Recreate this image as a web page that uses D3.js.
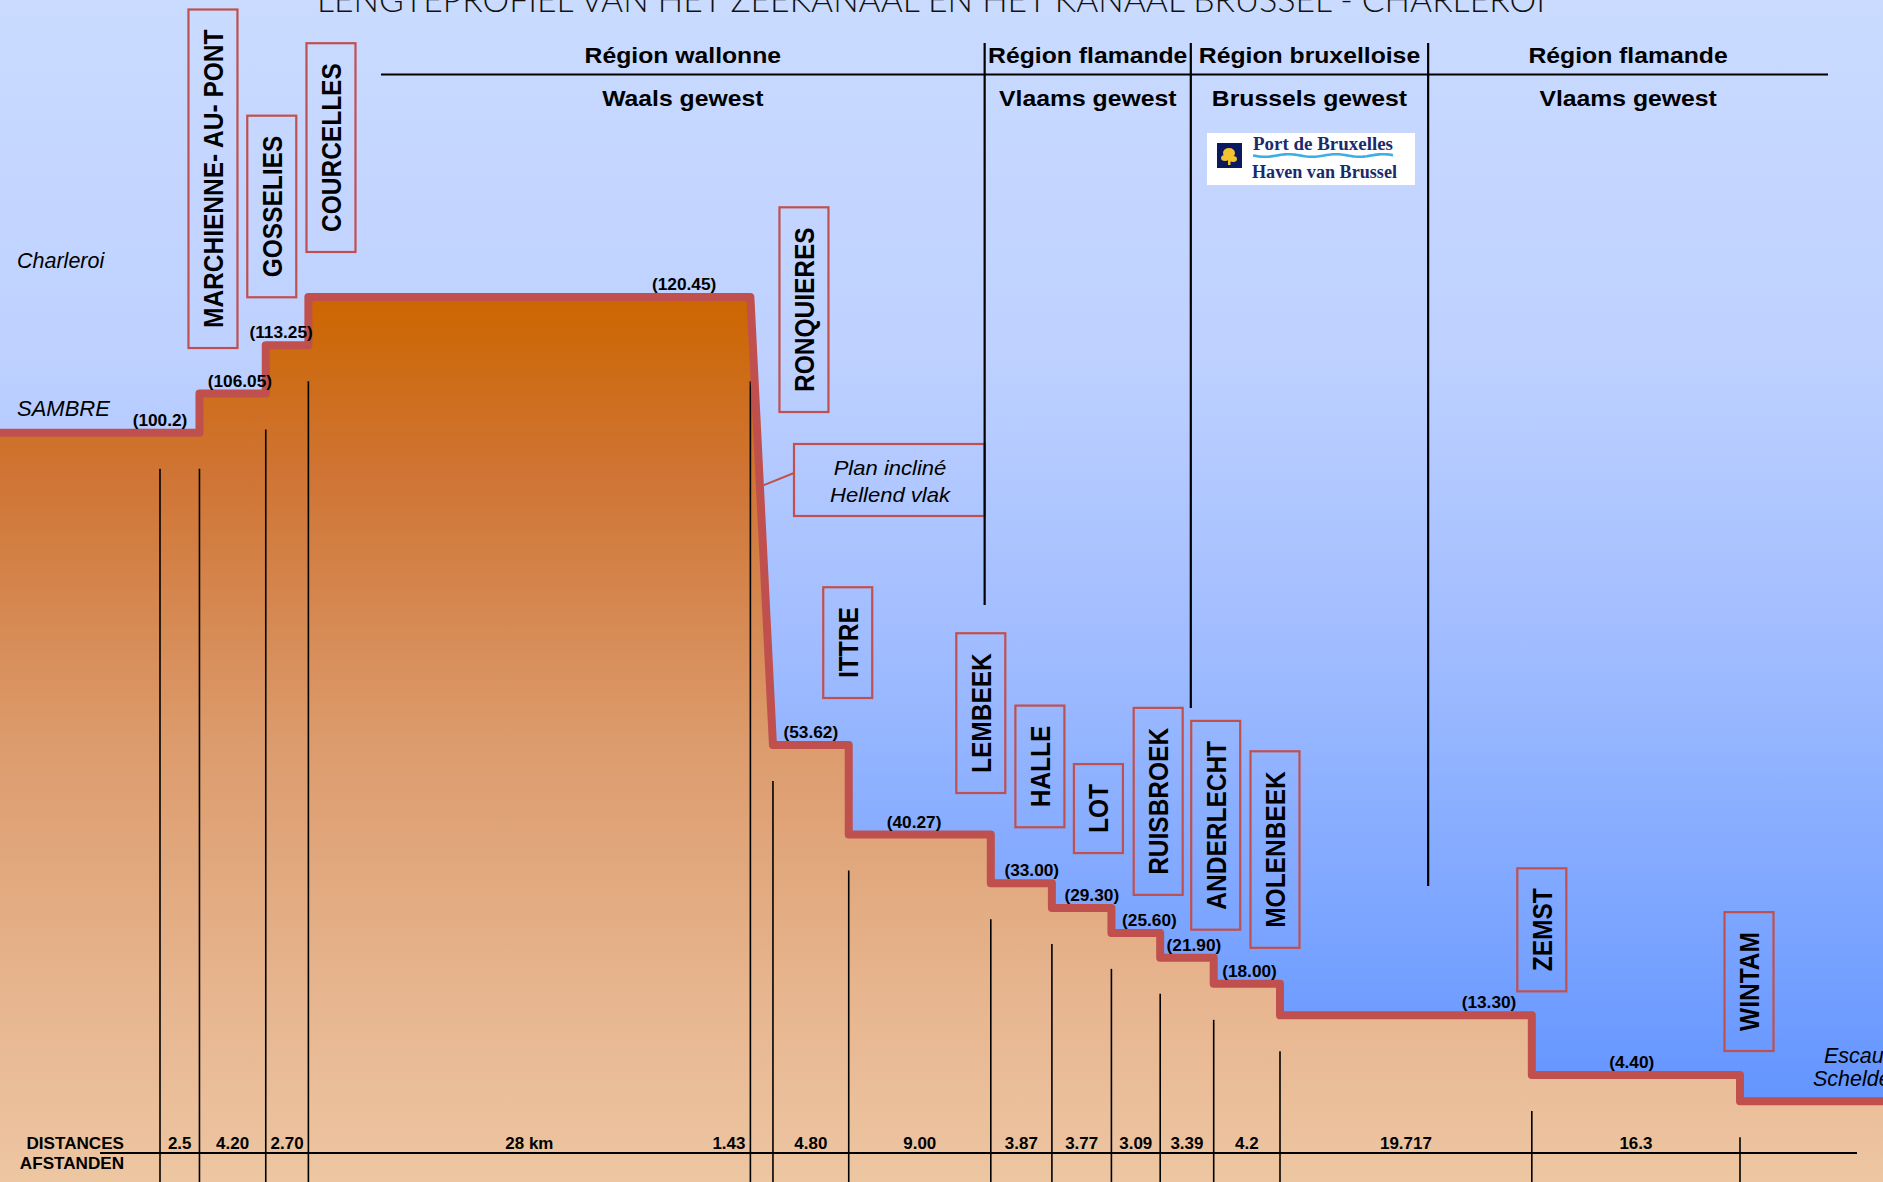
<!DOCTYPE html>
<html><head><meta charset="utf-8">
<script src="https://cdn.jsdelivr.net/npm/d3@7"></script>
<style>html,body{margin:0;padding:0;overflow:hidden;background:#fff}text{font-family:"Liberation Sans",Arial,sans-serif}</style>
</head><body><svg id="c" width="1883" height="1182"></svg>
<script>
// ---------- DATA ----------
const distances = [2.5, 4.20, 2.70, 28, 1.43, 4.80, 9.00, 3.87, 3.77, 3.09, 3.39, 4.2, 19.717, 16.3];
const distanceLabels = ["2.5","4.20","2.70","28 km","1.43","4.80","9.00","3.87","3.77","3.09","3.39","4.2","19.717","16.3"];
const levels = [100.2, 106.05, 113.25, 120.45, null, 53.62, 40.27, 33.00, 29.30, 25.60, 21.90, 18.00, 13.30, 4.40];
const levelLabels = ["(100.2)","(106.05)","(113.25)","(120.45)",null,"(53.62)","(40.27)","(33.00)","(29.30)","(25.60)","(21.90)","(18.00)","(13.30)","(4.40)"];
const scheldeLevel = 0.5;
const lockNames = ["MARCHIENNE- AU- PONT","GOSSELIES","COURCELLES","RONQUIERES","ITTRE","LEMBEEK","HALLE","LOT","RUISBROEK","ANDERLECHT","MOLENBEEK","ZEMST","WINTAM"];
const lockBoundary = [1,2,3,5,6,7,8,9,10,11,12,13,14];
const regionsFR = ["Région wallonne","Région flamande","Région bruxelloise","Région flamande"];
const regionsNL = ["Waals gewest","Vlaams gewest","Brussels gewest","Vlaams gewest"];
const regionBordersKm = [52.24, 65.3, 82.55];
const title = "LENGTEPROFIEL VAN HET ZEEKANAAL EN HET KANAAL BRUSSEL - CHARLEROI";

// ---------- LAYOUT ----------
const W = 1883, H = 1182;
const levelLabelAt = [0, 0.61, 0.36, 0.85, null, 0.5, 0.46, 0.67, 0.67, 0.78, 0.63, 0.54, 0.83, 0.48];
const boxDx = [13.5, 6, 22.6, 31, -1, -10, -12, -13, -2, 2, -5, 10, 9];
const boxLift = [45.5, 48, 45, 333, 47, 41.5, 56, 55, 38, 28, 36, 24, 24];
const dividerBottoms = [605, 708, 886];
const RED = "#C0504D";

const cum = [0];
distances.forEach(d => cum.push(cum[cum.length - 1] + d));
const x = d3.scaleLinear().domain([0, cum[12], cum[14]]).range([160, 1280, 1740]);
const y = d3.scaleLinear().domain([0, 120.45]).range([1104.5, 297]);

const svg = d3.select("#c");
const defs = svg.append("defs");
const sky = defs.append("linearGradient").attr("id","sky").attr("gradientUnits","userSpaceOnUse")
  .attr("x1",0).attr("y1",0).attr("x2",0).attr("y2",H);
[[0,"#CADBFF"],[0.3,"#BED1FF"],[0.55,"#A0BCFF"],[0.75,"#80A8FF"],[0.92,"#6596FF"],[1,"#6194FF"]]
  .forEach(s => sky.append("stop").attr("offset",s[0]).attr("stop-color",s[1]));
const soil = defs.append("linearGradient").attr("id","soil").attr("gradientUnits","userSpaceOnUse")
  .attr("x1",0).attr("y1",y(120.45)).attr("x2",0).attr("y2",H);
[[0,"#CC6600"],[0.2,"#CF7434"],[0.5,"#DC9B6C"],[0.8,"#E7B690"],[1,"#EDC6A2"]]
  .forEach(s => soil.append("stop").attr("offset",s[0]).attr("stop-color",s[1]));

svg.append("rect").attr("width",W).attr("height",H).attr("fill","url(#sky)");

// profile points
const pts = [[0, y(levels[0])]];
for (let i = 0; i < levels.length; i++) {
  if (levels[i] === null) {
    pts.push([x(cum[i+1]), y(levels[i+1])]);
  } else {
    pts.push([x(cum[i]), y(levels[i])]);
    pts.push([x(cum[i+1]), y(levels[i])]);
  }
}
pts.push([x(cum[14]), y(scheldeLevel)]);
pts.push([W, y(scheldeLevel)]);

const area = pts.concat([[W, H], [0, H]]);
svg.append("path").attr("d", d3.line()(area) + "Z").attr("fill","url(#soil)");

// vertical distance lines
const lvl = j => {
  const c = [];
  if (j - 1 >= 0 && levels[j-1] !== null) c.push(levels[j-1]);
  if (j < levels.length && levels[j] !== null) c.push(levels[j]);
  if (j === levels.length) c.push(scheldeLevel);
  if (j < levels.length && levels[j] === null && j >= 2) return d3.min([levels[j-1], levels[j-2]]);
  return d3.min(c);
};
svg.append("g").selectAll("line").data(cum).join("line")
  .attr("x1", d => x(d)).attr("x2", d => x(d))
  .attr("y1", (d, j) => y(lvl(j)) + 36).attr("y2", H)
  .attr("stroke","#000").attr("stroke-width",1.6);

// axis line
svg.append("line").attr("x1",100).attr("x2",1857).attr("y1",1153).attr("y2",1153)
  .attr("stroke","#000").attr("stroke-width",2.2);

// water line
svg.append("path").attr("d", d3.line()(pts)).attr("fill","none")
  .attr("stroke",RED).attr("stroke-width",8).attr("stroke-linejoin","round");

// helper for horizontally stretched text
function txt(g, s, tx, ty, opt) {
  const o = Object.assign({size:16, weight:"bold", style:"normal", anchor:"middle", sx:1, fill:"#000", family:null, len:null}, opt||{});
  const t = g.append("text").attr("transform", `translate(${tx},${ty}) scale(${o.sx},1)`)
    .attr("text-anchor", o.anchor).attr("font-size", o.size).attr("font-weight", o.weight)
    .attr("font-style", o.style).attr("fill", o.fill).text(s);
  if (o.family) t.style("font-family", o.family);
  if (o.len) t.attr("textLength", o.len).attr("lengthAdjust","spacingAndGlyphs");
  return t;
}

// level labels
const gl = svg.append("g");
levels.forEach((v, i) => {
  if (v === null) return;
  const xs = x(cum[i]) + levelLabelAt[i] * (x(cum[i+1]) - x(cum[i]));
  txt(gl, levelLabels[i], xs, y(v) - 7, {size:16, sx:1.08});
});

// distance labels
const gd = svg.append("g");
distances.forEach((d, i) => {
  const a = x(cum[i]), b = x(cum[i+1]);
  if (b - a < 30) txt(gd, distanceLabels[i], a - 5, 1149, {size:16, anchor:"end", sx:1.06});
  else txt(gd, distanceLabels[i], (a + b) / 2, 1149, {size:16, sx:1.06});
});
txt(gd, "DISTANCES", 124, 1149, {size:16, anchor:"end", sx:1.07});
txt(gd, "AFSTANDEN", 124, 1169, {size:16, anchor:"end", sx:1.07});

// lock boxes
const fsBox = 24.5;
lockNames.forEach((name, k) => {
  const b = lockBoundary[k];
  const cands = [levels[b-1], levels[b], b === levels.length ? scheldeLevel : null].filter(v => v !== null && v !== undefined);
  const upper = d3.max(cands);
  const cx = x(cum[b]) + boxDx[k];
  const g = svg.append("g");
  const t = g.append("text").attr("font-size", fsBox).attr("font-weight","bold")
    .attr("text-anchor","middle").attr("y", fsBox * 0.358).text(name);
  const len = t.node().getComputedTextLength();
  const hBox = len + 40;
  const bottom = y(upper) - boxLift[k];
  const cy = bottom - hBox / 2;
  t.attr("transform", `translate(${cx},${cy}) scale(1.15,1) rotate(-90)`);
  g.insert("rect","text").attr("x", cx - 24.5).attr("y", bottom - hBox).attr("width",49).attr("height",hBox)
    .attr("fill","none").attr("stroke",RED).attr("stroke-width",2.2);
});

// Plan incliné callout
const bx = [x(cum[4]), x(cum[5])], byv = [y(levels[3]), y(levels[5])];
const pf = 0.42;
const gp = svg.append("g");
gp.append("line").attr("x1",794).attr("y1",473).attr("x2",bx[0] + pf*(bx[1]-bx[0]) + 4).attr("y2",byv[0] + pf*(byv[1]-byv[0]))
  .attr("stroke",RED).attr("stroke-width",2);
gp.append("rect").attr("x",794).attr("y",444).attr("width",x(regionBordersKm[0]) - 794).attr("height",72)
  .attr("fill","none").attr("stroke",RED).attr("stroke-width",2.2);
txt(gp, "Plan incliné", 890, 475, {size:21, weight:"normal", style:"italic", sx:1.05});
txt(gp, "Hellend vlak", 890, 502, {size:21, weight:"normal", style:"italic", sx:1.05});

// region header
const gr = svg.append("g");
const bxs = regionBordersKm.map(x);
gr.append("line").attr("x1",381).attr("x2",1828).attr("y1",74.5).attr("y2",74.5).attr("stroke","#000").attr("stroke-width",2.2);
bxs.forEach((bxv, i) => gr.append("line").attr("x1",bxv).attr("x2",bxv).attr("y1",43).attr("y2",dividerBottoms[i])
  .attr("stroke","#000").attr("stroke-width",2.2));
const edges = [381].concat(bxs, [1828]);
regionsFR.forEach((r, i) => {
  const c = (edges[i] + edges[i+1]) / 2;
  txt(gr, r, c, 63, {size:22.5, sx:1.1});
  txt(gr, regionsNL[i], c, 106, {size:22.5, sx:1.1});
});

// italic place labels
txt(svg, "Charleroi", 17, 268, {size:21.5, weight:"normal", style:"italic", anchor:"start"});
txt(svg, "SAMBRE", 17, 416, {size:22, weight:"normal", style:"italic", anchor:"start"});
txt(svg, "Escaut", 1824, 1063, {size:21.5, weight:"normal", style:"italic", anchor:"start"});
txt(svg, "Schelde", 1813, 1086, {size:21.5, weight:"normal", style:"italic", anchor:"start"});

// title (cut at top as in the original)
svg.append("text").attr("x",317).attr("y",12).attr("font-size",34).attr("font-weight",300)
  .style("font-family","Lato, 'Open Sans', sans-serif")
  .attr("textLength",1228).attr("lengthAdjust","spacingAndGlyphs").attr("fill","#111").text(title);

// logo
const lg = svg.append("g");
lg.append("rect").attr("x",1207).attr("y",133).attr("width",208).attr("height",52).attr("fill","#fff");
lg.append("rect").attr("x",1217).attr("y",143).attr("width",25).attr("height",25).attr("fill","#0B1A5E");
lg.append("ellipse").attr("cx",1229).attr("cy",153).attr("rx",6).attr("ry",5).attr("fill","#F2C230");
lg.append("ellipse").attr("cx",1225).attr("cy",158).attr("rx",4).attr("ry",3).attr("fill","#F2C230");
lg.append("ellipse").attr("cx",1233).attr("cy",159).attr("rx",4).attr("ry",3).attr("fill","#F2C230");
lg.append("rect").attr("x",1228).attr("y",158).attr("width",2.5).attr("height",7).attr("fill","#F2C230");
txt(lg, "Port de Bruxelles", 1253, 150, {size:18, anchor:"start", fill:"#1B2A6B", family:"'Liberation Serif', serif", len:140});
txt(lg, "Haven van Brussel", 1252, 178, {size:18, anchor:"start", fill:"#1B2A6B", family:"'Liberation Serif', serif", len:145});
const wave = d3.range(0, 71).map(i => [1253 + i*2, 155.5 + Math.sin(i/71*Math.PI*6)*1.3]);
lg.append("path").attr("d", d3.line()(wave)).attr("fill","none").attr("stroke","#3BAEE6").attr("stroke-width",2.6);
</script></body></html>
